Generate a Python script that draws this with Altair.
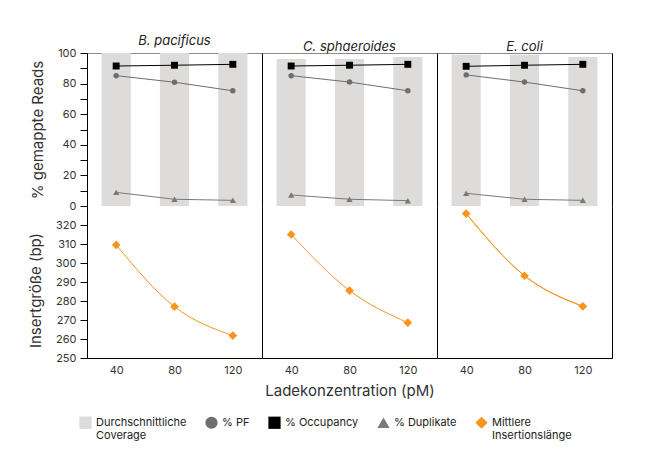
import altair as alt
import pandas as pd

species = ["B. pacificus", "C. sphaeroides", "E. coli"]
conc = [40, 80, 120]
coverage = [[100, 100, 100], [96, 96, 97.4], [98.8, 98.8, 97.4]]
pf = [[85.2, 80.9, 75.3], [85.2, 81.0, 75.3], [85.7, 81.0, 75.3]]
occupancy = [[91.5, 92.0, 92.6], [91.5, 92.0, 92.6], [91.3, 92.0, 92.6]]
duplicates = [[8.9, 4.4, 3.7], [7.2, 4.4, 3.5], [8.3, 4.4, 3.7]]
insert = [[309.5, 277.0, 261.8], [315.0, 285.5, 268.6], [326.0, 293.3, 277.2]]

series_names = ["Durchschnittliche Coverage", "% PF", "% Occupancy", "% Duplikate",
                "Mittlere Insertionslänge"]
series_colors = ["#dddcdb", "#6e6e6e", "#000000", "#7a7a7a", "#f7941d"]
series_shapes = ["square", "circle", "square", "triangle-up", "diamond"]
line_names = series_names[1:]
line_colors = ["#6e6e6e", "#000000", "#7a7a7a", "#f7941d"]
marker_sizes = {"% PF": 30, "% Occupancy": 48, "% Duplikate": 40, "Mittlere Insertionslänge": 75}

rows = []
for i, sp in enumerate(species):
    for j, c in enumerate(conc):
        for name, arr in zip(series_names, [coverage, pf, occupancy, duplicates, insert]):
            rows.append({"species": sp, "conc": c, "series": name, "value": arr[i][j]})
df = pd.DataFrame(rows)

FONT = "Inter"
BLACK = "#000000"

legend_expr = ("datum.label == 'Durchschnittliche Coverage' ? ['Durchschnittliche', 'Coverage'] : "
               "datum.label == 'Mittlere Insertionslänge' ? ['Mittlere', 'Insertionslänge'] : "
               "[datum.label, '']")
leg = alt.Legend(title=None, labelExpr=legend_expr)

color = alt.Color("series:N", scale=alt.Scale(domain=series_names, range=series_colors), legend=leg)
shape = alt.Shape("series:N", scale=alt.Scale(domain=series_names, range=series_shapes), legend=leg)
stroke = alt.Stroke("series:N", scale=alt.Scale(domain=line_names, range=line_colors), legend=None)

W = 175
HT = 153
HB = 152

AX_TOP0 = alt.Axis(values=list(range(0, 101, 10)),
                   labelExpr="datum.value % 20 == 0 ? datum.label : ''",
                   title="% gemappte Reads", domainColor=BLACK, tickColor=BLACK,
                   tickSize=7, labelPadding=4, titlePadding=12)
AX_BOT0 = alt.Axis(values=list(range(250, 321, 10)), title="Insertgröße (bp)",
                   domainColor=BLACK, tickColor=BLACK, tickSize=7, labelPadding=4,
                   titlePadding=12, titleY=84)
AX_PLAIN = alt.Axis(labels=False, ticks=False, title=None, domainColor=BLACK)
AX_RIGHT = alt.Axis(orient="right", labels=False, ticks=False, title=None, domainColor=BLACK)


def yaxes(ci, top, n):
    """Axis for each of n layers."""
    if ci == 0:
        return [AX_TOP0 if top else AX_BOT0] * n
    if ci == 1:
        return [AX_PLAIN] * n
    # right column: independent axes -> one left, one right, others none
    return [AX_PLAIN, AX_RIGHT] + [None] * (n - 2)


cols = []
for ci, sp in enumerate(species):
    base = alt.Chart(df).transform_filter(alt.datum.species == sp)
    xs = alt.Scale(paddingInner=0, paddingOuter=0)
    x_top = alt.X("conc:O", scale=xs,
                  axis=alt.Axis(orient="top", labels=False, ticks=False, title=None,
                                domainColor="#8c8c8c"))
    x_bot = alt.X("conc:O", scale=xs,
                  axis=alt.Axis(orient="bottom", ticks=False, labelAngle=0, labelPadding=6,
                                domainColor=BLACK,
                                title="Ladekonzentration (pM)" if ci == 1 else None,
                                titlePadding=8))
    ys_top = alt.Scale(domain=[0, 100], nice=False)
    ys_bot = alt.Scale(domain=[250, 330], nice=False)

    ax = yaxes(ci, True, 7)
    top_layers = [base.transform_filter(alt.datum.series == series_names[0]).mark_bar(
        width=alt.RelativeBandSize(0.5)).encode(
        x=x_top, y=alt.Y("value:Q", scale=ys_top, axis=ax[0]), color=color)]
    idx = 1
    for name in series_names[1:4]:
        ln = base.transform_filter(alt.datum.series == name).mark_line(strokeWidth=1).encode(
            x=x_top, y=alt.Y("value:Q", scale=ys_top, axis=ax[idx]), stroke=stroke)
        pt = base.transform_filter(alt.datum.series == name).mark_point(
            filled=True, opacity=1, size=marker_sizes[name]).encode(
            x=x_top, y=alt.Y("value:Q", scale=ys_top, axis=ax[idx + 1]),
            color=color, shape=shape)
        top_layers += [ln, pt]
        idx += 2

    top = alt.layer(*top_layers).properties(
        width=W, height=HT,
        title=alt.TitleParams(sp, fontStyle="italic", fontSize=13, font=FONT, fontWeight="normal",
                              color="#222222", offset=-1))
    if ci == 2:
        top = top.resolve_axis(y="independent")

    name = series_names[4]
    ax = yaxes(ci, False, 3)
    sub = base.transform_filter(alt.datum.series == name)
    bl = sub.mark_line(strokeWidth=1, interpolate="monotone").encode(
        x=x_bot, y=alt.Y("value:Q", scale=ys_bot, axis=ax[0]), stroke=stroke)
    bl2 = sub.mark_line(strokeWidth=1, interpolate="monotone").encode(
        x=x_bot, y=alt.Y("value:Q", scale=ys_bot, axis=ax[1]), stroke=stroke)
    bp = sub.mark_point(filled=True, opacity=1, size=marker_sizes[name]).encode(
        x=x_bot, y=alt.Y("value:Q", scale=ys_bot, axis=ax[2]), color=color, shape=shape)
    blayers = [bl, bl2, bp] if ci == 2 else [bl, bp]
    bottom = alt.layer(*blayers).properties(width=W, height=HB)
    if ci == 2:
        bottom = bottom.resolve_axis(y="independent")

    cols.append(alt.vconcat(top, bottom, spacing=0, bounds="flush"))

chart = alt.hconcat(*cols, spacing=0).properties(
    padding={"left": 20, "top": 27, "right": 5, "bottom": 5}
).configure_view(stroke=None).configure_axis(
    grid=False, labelFont=FONT, titleFont=FONT, labelFontSize=11, titleFontSize=15,
    labelColor="#333333", titleColor="#333333", titleFontWeight="normal",
    labelFontWeight="normal"
).configure_legend(
    orient="none", legendX=-8, legendY=363, direction="horizontal", labelFont=FONT,
    labelFontSize=11, labelColor="#222222", symbolSize=150, symbolStrokeWidth=0,
    columnPadding=18, labelLimit=300
).configure_title(font=FONT)

chart.save("out.html", embed_options={"renderer": "svg", "actions": False})
